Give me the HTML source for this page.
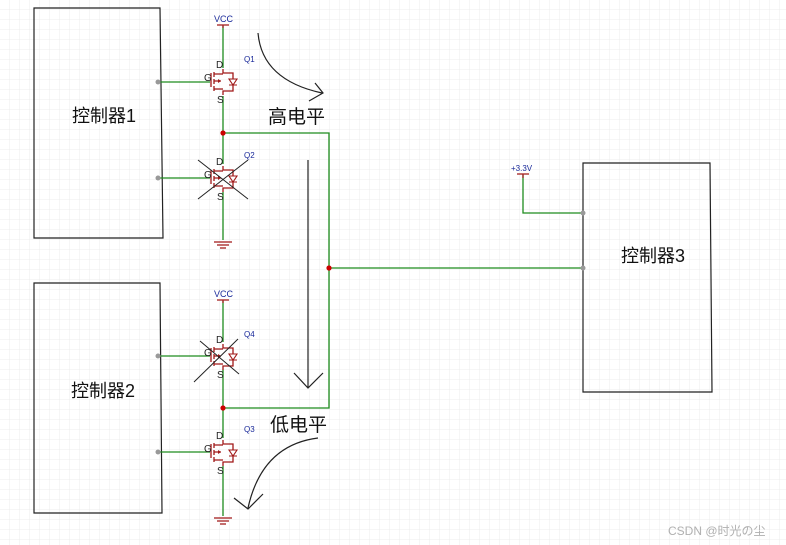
<!DOCTYPE html>
<html><head><meta charset="utf-8"><style>
html,body{margin:0;padding:0;background:#fff}
svg{display:block}
text{font-family:"Liberation Sans","Noto Sans CJK SC",sans-serif}
</style></head><body>
<svg width="786" height="545" viewBox="0 0 786 545" xmlns="http://www.w3.org/2000/svg">
<defs>
<pattern id="g" width="10" height="10" patternUnits="userSpaceOnUse">
<path d="M10 0V10M0 10H10" stroke="#ececec" stroke-width="1" fill="none"/>
</pattern>
<g id="fet">
<path d="M0,-12 V-8 H10 V-2 M10,4 V10 H0 V14" stroke="#a01818" stroke-width="1.3" fill="none"/>
<path d="M-12,-8 V6 M-9,-9 V-4 M-9,-2 V3 M-9,5 V10 M-9,-7 H0 M-9,8 H0 M-9,0 H-2" stroke="#a01818" stroke-width="1.3" fill="none"/>
<path d="M-5,-2 L-2,0 L-5,2 Z" fill="#a01818"/>
<path d="M6,-2 H14 L10,4 Z M6,4 H14" stroke="#a01818" stroke-width="1.1" fill="none"/>
<text x="-7" y="-13" font-size="10" fill="#222">D</text>
<text x="-19" y="0" font-size="10" fill="#222">G</text>
<text x="-6" y="22" font-size="10" fill="#222">S</text>
</g>
<g id="gnd"><path d="M-9,0 H9 M-6,3 H6 M-3,6 H3" stroke="#a01818" stroke-width="1.2"/></g>
<g id="vcc"><path d="M-6,0 H6 M0,0 V3" stroke="#a01818" stroke-width="1.2"/><text x="-9" y="-3" font-size="9" fill="#1a2a9a">VCC</text></g>
</defs>
<rect width="786" height="545" fill="url(#g)"/>

<path d="M34,8 H160 L163,238 H34 Z" fill="none" stroke="#222" stroke-width="1.2"/>
<path d="M34,283 H160 L162,513 H34 Z" fill="none" stroke="#222" stroke-width="1.2"/>
<path d="M583,163 H710 L712,392 H583 Z" fill="none" stroke="#222" stroke-width="1.2"/>
<text x="72" y="122" font-size="18" fill="#111">控制器1</text>
<text x="71" y="397" font-size="18" fill="#111">控制器2</text>
<text x="621" y="262" font-size="18" fill="#111">控制器3</text>

<g stroke="#1e8c1e" stroke-width="1.3" fill="none">
<path d="M158,82 H210 M158,178 H210 M158,356 H210 M158,452 H210"/>
<path d="M223,26 V68 M223,96 V164 M223,192 V240"/>
<path d="M223,301 V342 M223,370 V438 M223,466 V516"/>
<path d="M223,133 H329 V408 H223"/>
<path d="M329,268 H583"/>
<path d="M523,175 V213 H583"/>
</g>
<path d="M517,174 H529 M523,174 V178" stroke="#a01818" stroke-width="1.2"/>
<text x="511" y="171" font-size="8" fill="#1a2a9a">+3.3V</text>

<use href="#vcc" x="223" y="25"/>
<use href="#vcc" x="223" y="300"/>
<use href="#fet" x="223" y="81"/>
<use href="#fet" x="223" y="178"/>
<use href="#fet" x="223" y="356"/>
<use href="#fet" x="223" y="452"/>
<use href="#gnd" x="223" y="242"/>
<use href="#gnd" x="223" y="518"/>

<path d="M198,160 L248,199 M198,199 L248,160" stroke="#222" stroke-width="1"/>
<path d="M194,382 L238,339 M200,341 L239,374" stroke="#222" stroke-width="1"/>

<text x="244" y="62" font-size="8" fill="#1a2a9a">Q1</text>
<text x="244" y="158" font-size="8" fill="#1a2a9a">Q2</text>
<text x="244" y="337" font-size="8" fill="#1a2a9a">Q4</text>
<text x="244" y="432" font-size="8" fill="#1a2a9a">Q3</text>

<circle cx="223" cy="133" r="2.6" fill="#c00"/>
<circle cx="223" cy="408" r="2.6" fill="#c00"/>
<circle cx="329" cy="268" r="2.6" fill="#c00"/>
<g fill="#999"><circle cx="158" cy="82" r="2.5"/><circle cx="158" cy="178" r="2.5"/><circle cx="158" cy="356" r="2.5"/><circle cx="158" cy="452" r="2.5"/><circle cx="583" cy="213" r="2.5"/><circle cx="583" cy="268" r="2.5"/></g>

<g stroke="#222" stroke-width="1.2" fill="none">
<path d="M258,33 Q262,80 322,93"/>
<path d="M315,83 L323,93 L309,101"/>
<path d="M308,160 V387 M294,373 L308,388 L323,373"/>
<path d="M318,438 Q262,445 248,508"/>
<path d="M234,498 L248,509 L263,494"/>
</g>
<text x="268" y="123" font-size="19" fill="#111">高电平</text>
<text x="270" y="431" font-size="19" fill="#111">低电平</text>
<text x="668" y="535" font-size="12" fill="#b0b0b0">CSDN @时光の尘</text>
</svg>
</body></html>
